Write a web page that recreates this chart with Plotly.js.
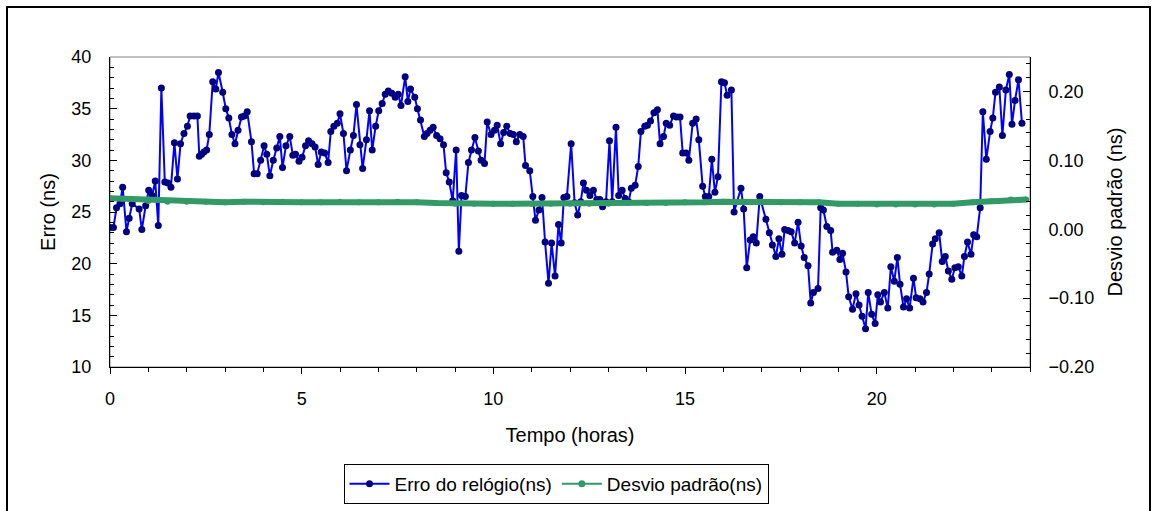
<!DOCTYPE html>
<html><head><meta charset="utf-8">
<script src="https://cdn.plot.ly/plotly-3.0.1.min.js"></script>
<style>html,body{margin:0;padding:0;background:#fff}#chart{width:1157px;height:511px}</style>
</head><body><div id="chart"></div>
<script>
// Tempo (horas) for the clock-error series
const hours = [0.00,0.09,0.17,0.26,0.33,0.43,0.50,0.58,0.76,0.83,0.93,1.01,1.10,1.18,1.26,1.34,1.43,1.51,1.59,1.68,1.76,1.84,1.93,2.02,2.09,2.19,2.28,2.33,2.39,2.45,2.52,2.59,2.68,2.76,2.83,2.94,3.02,3.10,3.18,3.26,3.34,3.43,3.50,3.58,3.69,3.76,3.84,3.93,4.02,4.09,4.17,4.26,4.35,4.43,4.50,4.59,4.69,4.77,4.84,4.93,5.01,5.10,5.18,5.27,5.35,5.43,5.51,5.60,5.69,5.76,5.84,5.93,6.00,6.09,6.17,6.27,6.35,6.43,6.52,6.59,6.69,6.77,6.84,6.93,7.01,7.10,7.18,7.26,7.35,7.44,7.52,7.59,7.70,7.77,7.84,7.95,8.02,8.10,8.20,8.27,8.35,8.43,8.52,8.61,8.70,8.77,8.85,8.94,9.03,9.10,9.17,9.27,9.35,9.43,9.52,9.61,9.68,9.77,9.84,9.94,10.03,10.10,10.19,10.27,10.35,10.44,10.52,10.60,10.69,10.78,10.84,10.95,11.03,11.10,11.19,11.27,11.35,11.44,11.52,11.61,11.70,11.77,11.84,11.92,12.03,12.12,12.20,12.28,12.35,12.43,12.52,12.61,12.70,12.78,12.85,12.94,13.03,13.10,13.20,13.27,13.36,13.44,13.53,13.60,13.70,13.78,13.85,13.95,14.02,14.10,14.19,14.28,14.35,14.44,14.51,14.60,14.70,14.78,14.87,14.94,15.03,15.10,15.20,15.29,15.36,15.46,15.53,15.62,15.70,15.78,15.86,15.95,16.03,16.10,16.21,16.28,16.46,16.53,16.61,16.70,16.78,16.86,16.95,17.11,17.20,17.28,17.37,17.45,17.53,17.60,17.69,17.77,17.86,17.95,18.03,18.11,18.21,18.28,18.35,18.47,18.54,18.61,18.70,18.80,18.85,18.96,19.04,19.11,19.20,19.27,19.37,19.46,19.54,19.62,19.71,19.78,19.87,19.96,20.03,20.10,20.20,20.29,20.37,20.46,20.54,20.61,20.70,20.78,20.86,20.96,21.03,21.13,21.21,21.30,21.37,21.46,21.53,21.63,21.71,21.79,21.87,21.96,22.04,22.13,22.22,22.29,22.37,22.46,22.53,22.61,22.70,22.77,22.86,22.96,23.03,23.10,23.20,23.28,23.37,23.46,23.53,23.61,23.70,23.79];
// Erro do relógio (ns)
const clockError = [23.5,23.5,25.4,25.8,27.4,23.1,24.4,25.8,25.3,23.3,25.6,27.1,26.6,28.0,23.7,37.0,27.9,27.8,27.4,31.7,28.2,31.6,32.6,33.3,34.3,34.3,34.3,30.4,30.6,30.8,31.0,32.5,37.6,36.9,38.5,36.6,35.0,34.1,32.5,31.6,32.9,34.2,34.3,34.7,31.8,28.7,28.7,30.0,31.4,30.6,28.5,30.0,31.2,32.3,29.3,31.4,32.3,30.5,30.6,29.9,30.3,31.4,31.9,31.6,31.3,29.6,30.8,30.7,29.8,32.8,33.3,33.6,34.5,32.6,29.0,31.0,32.4,35.4,31.5,29.2,32.0,34.8,31.0,33.3,34.8,35.5,36.4,36.7,36.5,36.1,36.4,35.3,38.1,35.7,36.9,36.1,35.0,33.9,32.3,32.6,32.9,33.2,32.4,32.1,31.5,28.8,27.9,26.1,31.0,21.2,26.6,26.5,29.8,31.0,32.2,30.9,30.0,29.7,33.7,32.5,32.9,33.4,31.6,32.7,33.3,32.6,32.5,31.8,32.5,32.3,29.5,29.0,26.5,24.2,25.2,26.4,22.1,18.1,22.0,18.8,23.8,22.0,26.4,26.5,31.6,25.9,24.7,26.0,27.8,27.1,26.6,27.1,26.2,26.2,25.5,26.0,31.9,26.0,33.2,26.6,27.1,26.3,26.0,27.3,27.6,29.4,32.8,33.3,33.4,33.8,34.6,34.9,31.6,32.3,33.6,33.4,34.3,34.2,34.2,30.7,30.7,30.0,33.6,34.0,32.0,27.5,26.5,26.5,30.1,26.9,28.4,37.6,37.5,36.3,36.8,25.0,27.3,25.3,19.6,22.3,22.6,22.0,26.5,24.3,23.0,21.8,20.7,22.4,20.9,23.3,23.2,23.1,22.0,24.0,21.7,20.6,19.8,16.2,17.2,17.6,25.4,25.2,23.6,23.2,21.1,21.3,20.4,21.0,19.2,16.8,15.6,17.1,16.0,14.9,13.7,17.2,15.1,14.2,17.0,16.3,17.2,15.7,19.7,18.3,20.6,18.0,15.8,16.6,15.7,18.6,16.7,16.6,16.3,17.2,19.0,21.9,22.4,23.0,20.2,20.7,19.3,18.5,19.6,19.7,18.8,20.7,22.1,20.9,22.8,22.6,25.4,34.7,30.1,32.8,34.1,36.6,37.1,32.4,36.8,38.3,33.5,35.8,37.8,33.6];
// Tempo (horas) for the standard-deviation series
const sdHours = [0,0.5,1,1.5,2,2.5,3,3.5,4,4.5,5,5.5,6,6.5,7,7.5,8,8.5,9,9.5,10,10.5,11,11.5,12,12.5,13,13.5,14,14.5,15,15.5,16,16.5,17,17.5,18,18.5,19,19.5,20,20.5,21,21.5,22,22.5,23,23.5,23.9];
// Desvio padrão (ns)
const stdDev = [0.045,0.044,0.041,0.040,0.040,0.040,0.039,0.040,0.039,0.040,0.039,0.039,0.040,0.039,0.039,0.040,0.039,0.038,0.037,0.037,0.037,0.037,0.037,0.037,0.037,0.037,0.037,0.038,0.038,0.038,0.039,0.039,0.040,0.040,0.040,0.039,0.039,0.039,0.037,0.037,0.036,0.036,0.036,0.036,0.037,0.039,0.041,0.043,0.043];

const seriesNames = ['Erro do relógio(ns)', 'Desvio padrão(ns)'];
const xTitle = 'Tempo (horas)';
const yTitle = 'Erro (ns)';
const y2Title = 'Desvio padrão (ns)';

const FONT = 'Liberation Sans, Arial, sans-serif';
const TICK_FS = 18, TITLE_FS = 20, LEG_FS = 19;

const traces = [
  {x: hours, y: clockError, name: seriesNames[0], type: 'scatter', mode: 'lines+markers',
   line: {color: '#0000FF', width: 2}, marker: {color: '#000080', size: 7}},
  {x: sdHours, y: stdDev, name: seriesNames[1], type: 'scatter', mode: 'lines+markers', yaxis: 'y2',
   showlegend: false,
   line: {color: '#339966', width: 6}, marker: {color: '#339966', size: 6}},
  // legend entry only (thin line + dot, as in the original legend)
  {x: [null], y: [null], name: seriesNames[1], type: 'scatter', mode: 'lines+markers', yaxis: 'y2',
   line: {color: '#339966', width: 2}, marker: {color: '#339966', size: 7}}
];

const L = 110, R = 1030, T = 57, B = 367, W = 1157, H = 511;
const pw = R - L, ph = B - T;
const px = v => (v - L) / pw, py = v => (B - v) / ph;

const layout = {
  width: W, height: H,
  margin: {l: L, r: W - R, t: T, b: H - B, autoexpand: false},
  paper_bgcolor: '#fff', plot_bgcolor: '#fff',
  font: {family: FONT, size: TICK_FS, color: '#000'},
  showlegend: true,
  legend: {orientation: 'h', x: px(556), xanchor: 'center', y: py(464), yanchor: 'top',
           bordercolor: '#000', borderwidth: 1, font: {size: LEG_FS}, traceorder: 'normal',
           itemwidth: 40, tracegroupgap: 0},
  xaxis: {range: [0, 24], dtick: 5, tick0: 0, ticks: 'outside', ticklen: 6, tickcolor: '#000',
          minor: {dtick: 1, ticks: 'outside', ticklen: 4, tickcolor: '#000', showgrid: false},
          showgrid: false, zeroline: false, showline: true, linecolor: '#000', linewidth: 1,
          ticklabelstandoff: 9, tickfont: {size: TICK_FS},
          title: {text: xTitle, font: {size: TITLE_FS}, standoff: 20}},
  yaxis: {range: [10, 40], dtick: 5, tick0: 0, ticks: 'inside', ticklen: 7, tickcolor: '#000',
          minor: {dtick: 1, ticks: 'inside', ticklen: 4, tickcolor: '#000', showgrid: false},
          showgrid: false, zeroline: false, showline: true, linecolor: '#000', linewidth: 1,
          ticklabelstandoff: 14, tickfont: {size: TICK_FS},
          title: {text: yTitle, font: {size: TITLE_FS}, standoff: 10}},
  yaxis2: {overlaying: 'y', side: 'right', range: [-0.2, 0.25], dtick: 0.1, tick0: 0, tickformat: '.2f',
           ticks: 'inside', ticklen: 7, tickcolor: '#000',
           minor: {dtick: 0.02, ticks: 'inside', ticklen: 4, tickcolor: '#000', showgrid: false},
           showgrid: false, zeroline: false, showline: true, linecolor: '#000', linewidth: 1,
           ticklabelstandoff: 14, tickfont: {size: TICK_FS},
           title: {text: y2Title, font: {size: TITLE_FS}, standoff: 14}},
  shapes: [
    {type: 'rect', xref: 'paper', yref: 'paper', x0: 0, x1: 1, y0: 0, y1: 1,
     line: {color: '#808080', width: 1}, layer: 'below'},
    {type: 'rect', xref: 'paper', yref: 'paper', x0: px(7), x1: px(1150), y0: py(540), y1: py(7),
     line: {color: '#000', width: 2}}
  ]
};

Plotly.newPlot('chart', traces, layout, {displayModeBar: false, staticPlot: true});
</script>
</body></html>
